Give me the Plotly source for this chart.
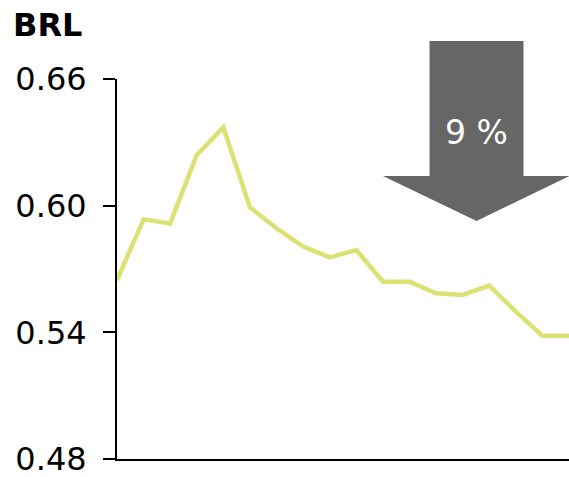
import plotly.graph_objects as go

# BRL exchange-rate series, one value per period
periods = list(range(18))
brl = [0.5648, 0.5935, 0.5916, 0.6240, 0.6371, 0.5992, 0.5893, 0.5806, 0.5755,
       0.5790, 0.5640, 0.5640, 0.5585, 0.5577, 0.5621, 0.5498, 0.5384, 0.5384]
y_ticks = [0.48, 0.54, 0.60, 0.66]
y_tick_text = ["0.48", "0.54", "0.60", "0.66"]
unit_label = "BRL"
change_label = "9 %"

W, H = 569, 477
L, R, T, B = 117, 0, 79, 18
FONT = "DejaVu Sans"

fig = go.Figure()
fig.add_trace(go.Scatter(
    x=periods, y=brl, mode="lines",
    line=dict(color="#dbe273", width=4.5),
    hoverinfo="skip", showlegend=False,
))

# down arrow drawn in paper coordinates (x: 0..1 across plot, y: 0..1 bottom->top)
pw, ph = W - L - R, H - T - B
def px(x): return (x - L) / pw
def py(y): return (H - B - y) / ph

pts = [(429.5, 41), (523.5, 41), (523.5, 176), (569.5, 176), (476.5, 221),
       (383, 176), (429.5, 176)]
path = "M " + " L ".join(f"{px(a):.4f},{py(b):.4f}" for a, b in pts) + " Z"
fig.add_shape(type="path", path=path, xref="paper", yref="paper",
              fillcolor="#666666", line=dict(width=0), layer="above")
fig.add_annotation(x=px(476.5), y=py(132), xref="paper", yref="paper",
                   xanchor="center", yanchor="middle",
                   text=change_label, showarrow=False,
                   font=dict(family=FONT, size=33, color="white"))

fig.add_annotation(x=px(11), y=py(25), xref="paper", yref="paper",
                   xanchor="left", yanchor="middle", text=f"<b>{unit_label}</b>",
                   showarrow=False,
                   font=dict(family=FONT, size=32, color="black"))

fig.update_layout(
    width=W, height=H,
    margin=dict(l=L, r=R, t=T, b=B),
    paper_bgcolor="white", plot_bgcolor="white",
    font=dict(family=FONT, size=32, color="black"),
    xaxis=dict(range=[0, 17], showgrid=False, zeroline=False, showticklabels=False,
               ticks="", showline=True, linecolor="black", linewidth=2),
    yaxis=dict(range=[0.48, 0.66], tickvals=y_ticks, ticktext=y_tick_text,
               showgrid=False, zeroline=False, showline=True, linecolor="black",
               linewidth=2, ticks="outside", ticklen=12, tickwidth=2,
               tickcolor="black", ticklabelstandoff=10,
               ticklabeloverflow="allow"),
)

fig.write_html("out.html")
